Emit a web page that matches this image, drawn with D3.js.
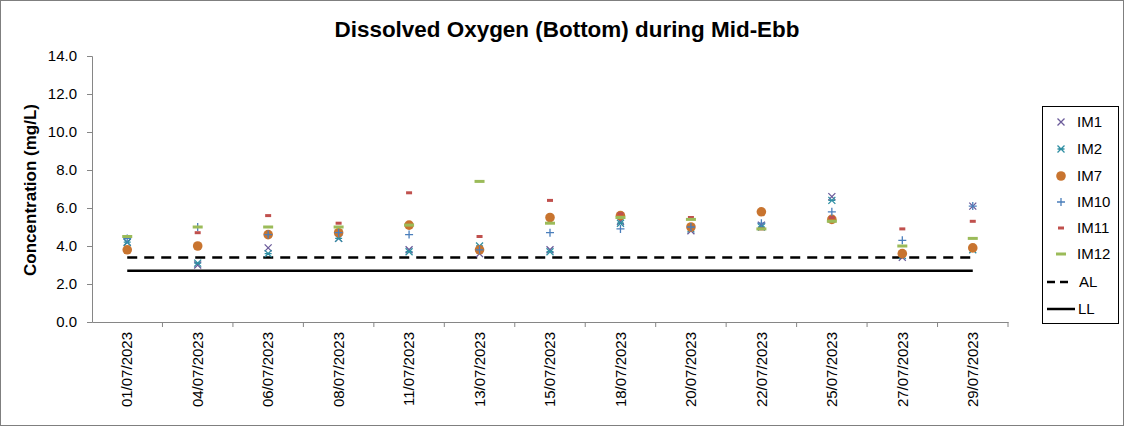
<!DOCTYPE html>
<html><head><meta charset="utf-8">
<script src="https://cdn.jsdelivr.net/npm/d3@7/dist/d3.min.js"></script>
<style>body{margin:0;background:#fff}svg{display:block}text{font-family:"Liberation Sans",Arial,sans-serif}</style>
</head><body><svg id="c" width="1124" height="426"></svg>
<script>
const dates = ["01/07/2023","04/07/2023","06/07/2023","08/07/2023","11/07/2023","13/07/2023","15/07/2023","18/07/2023","20/07/2023","22/07/2023","25/07/2023","27/07/2023","29/07/2023"];
const IM1  = [4.2,3.0,3.9,4.4,3.8,3.6,3.8,5.3,4.8,5.1,6.6,3.4,6.1];
const IM2  = [4.2,3.1,3.6,4.4,3.7,4.0,3.7,5.2,4.9,5.0,6.4,3.5,3.8];
const IM7  = [3.8,4.0,4.6,4.7,5.1,3.8,5.5,5.6,5.0,5.8,5.4,3.6,3.9];
const IM10 = [4.4,5.0,4.6,4.7,4.6,3.8,4.7,4.9,5.0,5.2,5.8,4.3,6.1];
const IM11 = [4.5,4.7,5.6,5.2,6.8,4.5,6.4,5.7,5.5,4.9,5.5,4.9,5.3];
const IM12 = [4.5,5.0,5.0,5.0,5.1,7.4,5.2,5.5,5.4,4.9,5.3,4.0,4.4];
const AL = 3.4, LL = 2.7;
const yTicks = [0,2,4,6,8,10,12,14];

const series = [
  {name:"IM1", vals:IM1, type:"x", color:"#6b5b9a"},
  {name:"IM2", vals:IM2, type:"star", color:"#2f8fa3"},
  {name:"IM7", vals:IM7, type:"circle", color:"#c8742f"},
  {name:"IM10", vals:IM10, type:"plus", color:"#4a7ebb"},
  {name:"IM11", vals:IM11, type:"dashS", color:"#c0504d"},
  {name:"IM12", vals:IM12, type:"dashL", color:"#9bbb59"}
];

const svg = d3.select("#c");
svg.append("rect").attr("x",0.5).attr("y",0.5).attr("width",1123).attr("height",425).attr("fill","#fff").attr("stroke","#7f7f7f");

const x = d3.scaleBand().domain(dates).range([92,1008]).padding(0);
const y = d3.scaleLinear().domain([0,14]).range([322,56]);

svg.append("text").attr("x",567).attr("y",37).attr("text-anchor","middle").attr("font-size",22).attr("font-weight","bold").attr("textLength",465).attr("lengthAdjust","spacingAndGlyphs").text("Dissolved Oxygen (Bottom) during Mid-Ebb");

const tf = "'Liberation Sans',Arial,sans-serif";
// y axis
const gy = svg.append("g").attr("transform","translate(92,0)").call(d3.axisLeft(y).tickValues(yTicks).tickFormat(d3.format(".1f")).tickSize(5).tickPadding(10));
gy.select(".domain").attr("stroke","#868686");
gy.selectAll(".tick line").attr("stroke","#868686");
gy.selectAll("text").attr("font-size",15).attr("fill","#000").style("font-family",tf);

// x axis
const gx = svg.append("g").attr("transform","translate(0,322)").call(d3.axisBottom(x).tickSize(0).tickPadding(0));
gx.select(".domain").attr("stroke","#868686");
gx.selectAll(".tick text").attr("font-size",15).attr("fill","#000").attr("text-anchor","end").attr("dy","0.35em")
  .attr("transform","translate(0,10) rotate(-90)").attr("x",0).attr("y",0).style("font-family",tf);
const bounds = dates.map(d=>x(d)).concat([x.range()[1]]).slice(1);
svg.append("g").selectAll("line").data(bounds).join("line")
  .attr("x1",d=>d).attr("x2",d=>d).attr("y1",322).attr("y2",327).attr("stroke","#868686");

svg.append("text").attr("transform","translate(36,190) rotate(-90)").attr("text-anchor","middle").attr("font-size",17).attr("font-weight","bold").text("Concentration (mg/L)");

// limit lines
const cx = d=>x(d)+x.bandwidth()/2;
const x0 = cx(dates[0]), x1 = cx(dates[dates.length-1]);
svg.append("line").attr("x1",x0).attr("x2",x1).attr("y1",y(LL)).attr("y2",y(LL)).attr("stroke","#000").attr("stroke-width",2.5);
svg.append("line").attr("x1",x0).attr("x2",x1).attr("y1",y(AL)).attr("y2",y(AL)).attr("stroke","#000").attr("stroke-width",2.5).attr("stroke-dasharray","10,7");

function marker(g, type, color){
  if(type==="x"){
    g.append("path").attr("d","M-3.5,-3.5L3.5,3.5M-3.5,3.5L3.5,-3.5").attr("stroke",color).attr("stroke-width",1.3).attr("fill","none");
  } else if(type==="star"){
    g.append("path").attr("d","M-3.5,-3.5L3.5,3.5M-3.5,3.5L3.5,-3.5M-3.5,0L3.5,0").attr("stroke",color).attr("stroke-width",1.3).attr("fill","none");
  } else if(type==="circle"){
    g.append("circle").attr("r",4.8).attr("fill",color);
  } else if(type==="plus"){
    g.append("path").attr("d","M-4,0L4,0M0,-4L0,4").attr("stroke",color).attr("stroke-width",1.3).attr("fill","none");
  } else if(type==="dashS"){
    g.append("rect").attr("x",-3).attr("y",-1.5).attr("width",6).attr("height",3).attr("fill",color);
  } else if(type==="dashL"){
    g.append("rect").attr("x",-5).attr("y",-1.5).attr("width",10).attr("height",3).attr("fill",color);
  }
}

series.forEach(s=>{
  const g = svg.append("g");
  s.vals.forEach((v,i)=>{
    const m = g.append("g").attr("transform",`translate(${cx(dates[i])},${y(v)})`);
    marker(m, s.type, s.color);
  });
});

// legend
const lg = svg.append("g");
lg.append("rect").attr("x",1042.5).attr("y",106.5).attr("width",76).attr("height",217).attr("fill","#fff").attr("stroke","#000");
const ly = [122,149,176,202,228,254,282,309];
series.forEach((s,i)=>{
  const m = lg.append("g").attr("transform",`translate(1061,${ly[i]})`);
  marker(m, s.type, s.color);
  lg.append("text").attr("x",1077).attr("y",ly[i]).attr("dy","0.35em").attr("font-size",15).text(s.name);
});
lg.append("line").attr("x1",1047).attr("x2",1073).attr("y1",ly[6]).attr("y2",ly[6]).attr("stroke","#000").attr("stroke-width",2.5).attr("stroke-dasharray","8,5");
lg.append("text").attr("x",1079).attr("y",ly[6]).attr("dy","0.35em").attr("font-size",15).text("AL");
lg.append("line").attr("x1",1047).attr("x2",1075).attr("y1",ly[7]).attr("y2",ly[7]).attr("stroke","#000").attr("stroke-width",2.5);
lg.append("text").attr("x",1078).attr("y",ly[7]).attr("dy","0.35em").attr("font-size",15).text("LL");
</script></body></html>
